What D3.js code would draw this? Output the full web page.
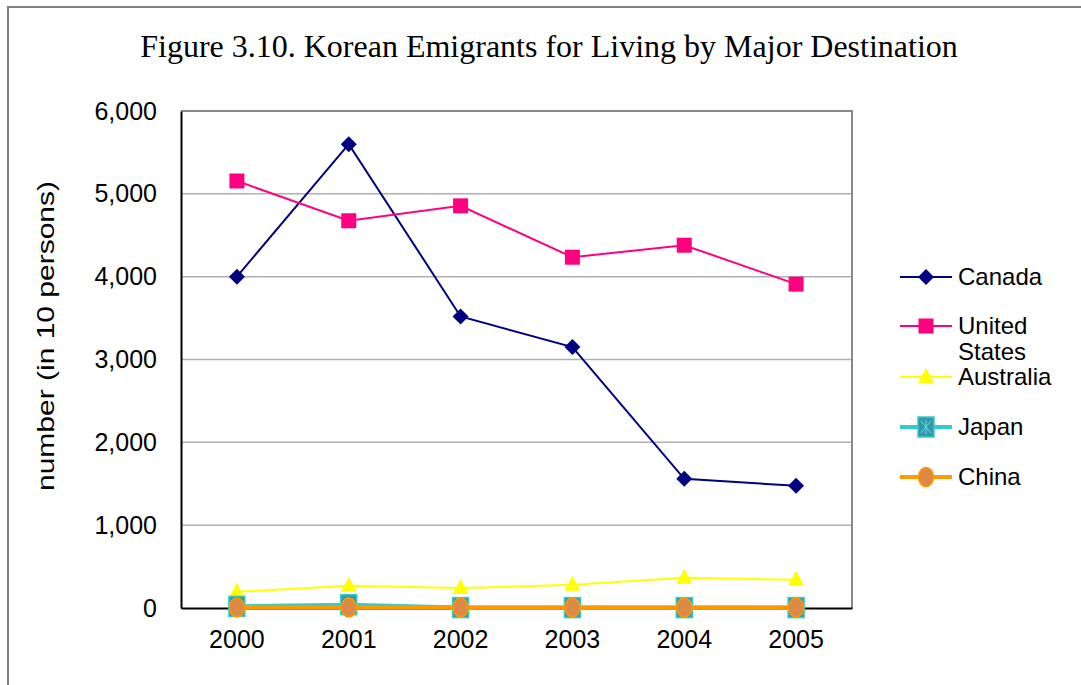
<!DOCTYPE html>
<html>
<head>
<meta charset="utf-8">
<script src="https://cdn.jsdelivr.net/npm/d3@7"></script>
<style>
  body { margin: 0; background: #fff; }
  svg { display: block; }
</style>
</head>
<body>
<script>
// data
const years = ["2000", "2001", "2002", "2003", "2004", "2005"];
const canada = [4000, 5600, 3520, 3150, 1560, 1475];
const unitedStates = [5155, 4675, 4855, 4235, 4380, 3910];
const australia = [195, 270, 240, 280, 365, 340];
const japan = [20, 40, 5, 5, 5, 5];
const china = [5, 5, 5, 5, 5, 5];
const yTicks = [0, 1000, 2000, 3000, 4000, 5000, 6000];

const series = [
    { name: "Canada", values: canada, color: "#000080", width: 2, marker: "diamond" },
    { name: "United States", label: ["United", "States"], values: unitedStates, color: "#ff0080", width: 2, marker: "square" },
    { name: "Australia", values: australia, color: "#ffff00", width: 2, marker: "triangle" },
    { name: "Japan", values: japan, color: "#33cccc", width: 4, marker: "xsquare" },
    { name: "China", values: china, color: "#ff9900", width: 4, marker: "circle" }
];

const W = 1081, H = 685;
const margin = { left: 181, right: 229, top: 111, bottom: 77 };

const svg = d3.select("body").append("svg")
    .attr("width", W)
    .attr("height", H);

// outer frame
svg.append("rect")
    .attr("x", 8).attr("y", 7)
    .attr("width", W + 10).attr("height", H + 10)
    .attr("fill", "none")
    .attr("stroke", "#808080")
    .attr("stroke-width", 2);

svg.append("text")
    .attr("x", 549).attr("y", 57)
    .attr("text-anchor", "middle")
    .style("font-family", "'Liberation Serif', 'Times New Roman', serif")
    .style("font-size", "32px")
    .text("Figure 3.10. Korean Emigrants for Living by Major Destination");

const x = d3.scaleBand()
    .domain(years)
    .range([margin.left, W - margin.right]);

const y = d3.scaleLinear()
    .domain([0, 6000])
    .range([H - margin.bottom, margin.top]);

const cx = d => x(d) + x.bandwidth() / 2;

// gridlines
svg.append("g")
    .selectAll("line")
    .data(yTicks.filter(t => t > 0 && t < 6000))
    .join("line")
    .attr("x1", margin.left).attr("x2", W - margin.right)
    .attr("y1", d => y(d)).attr("y2", d => y(d))
    .attr("stroke", "#b0b0b0")
    .attr("stroke-width", 1.5);

// plot area border (top / right)
svg.append("path")
    .attr("d", `M${margin.left},${y(6000)}H${W - margin.right}V${y(0)}`)
    .attr("fill", "none")
    .attr("stroke", "#888")
    .attr("stroke-width", 2);

const font = "'Liberation Sans', Arial, sans-serif";

const yAxis = svg.append("g")
    .attr("transform", `translate(${margin.left},0)`)
    .call(d3.axisLeft(y).tickValues(yTicks).tickSize(0).tickPadding(24).tickFormat(d3.format(",")));
yAxis.select(".domain").attr("stroke", "#000").attr("stroke-width", 2);
yAxis.selectAll("text").style("font-family", font).style("font-size", "25px").attr("fill", "#000");

const xAxis = svg.append("g")
    .attr("transform", `translate(0,${y(0)})`)
    .call(d3.axisBottom(x).tickSize(0).tickPadding(22));
xAxis.select(".domain").attr("stroke", "#000").attr("stroke-width", 2);
xAxis.selectAll("text").style("font-family", font).style("font-size", "25px").attr("fill", "#000");

svg.append("text")
    .attr("transform", "translate(54,336) rotate(-90) scale(1.25,1)")
    .attr("text-anchor", "middle")
    .style("font-family", font)
    .style("font-size", "24px")
    .text("number (in 10 persons)");

function drawMarker(g, s, px, py) {
    if (s.marker === "diamond") {
        g.append("path")
            .attr("d", `M${px},${py - 8}L${px + 8},${py}L${px},${py + 8}L${px - 8},${py}Z`)
            .attr("fill", s.color);
    } else if (s.marker === "square") {
        g.append("rect")
            .attr("x", px - 7.5).attr("y", py - 7.5)
            .attr("width", 15).attr("height", 15)
            .attr("fill", s.color);
    } else if (s.marker === "triangle") {
        g.append("path")
            .attr("d", `M${px},${py - 9}L${px + 8},${py + 6}L${px - 8},${py + 6}Z`)
            .attr("fill", s.color);
    } else if (s.marker === "xsquare") {
        g.append("rect")
            .attr("x", px - 8).attr("y", py - 10)
            .attr("width", 16).attr("height", 20)
            .attr("fill", "#3399aa")
            .attr("stroke", "#33cccc").attr("stroke-width", 1.5);
        g.append("path")
            .attr("d", `M${px - 5},${py - 6}L${px + 5},${py + 6}M${px + 5},${py - 6}L${px - 5},${py + 6}M${px},${py - 7}V${py + 7}`)
            .attr("stroke", "#66dddd").attr("stroke-width", 1);
    } else if (s.marker === "circle") {
        g.append("ellipse")
            .attr("cx", px).attr("cy", py)
            .attr("rx", 7.5).attr("ry", 9.5)
            .attr("fill", "#dd8844")
            .attr("stroke", "#ff9900").attr("stroke-width", 1.5);
    }
}

const line = d3.line()
    .x((d, i) => cx(years[i]))
    .y(d => y(d));

series.forEach(s => {
    const g = svg.append("g");
    g.append("path")
        .datum(s.values)
        .attr("d", line)
        .attr("fill", "none")
        .attr("stroke", s.color)
        .attr("stroke-width", s.width);
    s.values.forEach((v, i) => drawMarker(g, s, cx(years[i]), y(v)));
});

// legend
const legendY = [277, 326, 377, 427, 477];
series.forEach((s, i) => {
    const g = svg.append("g");
    const ly = legendY[i];
    g.append("line")
        .attr("x1", 900).attr("x2", 952)
        .attr("y1", ly).attr("y2", ly)
        .attr("stroke", s.color)
        .attr("stroke-width", s.width);
    drawMarker(g, s, 926, ly);
    const lines = s.label || [s.name];
    lines.forEach((t, j) => {
        g.append("text")
            .attr("x", 958)
            .attr("y", ly + 8 + j * 26)
            .style("font-family", font)
            .style("font-size", "24px")
            .text(t);
    });
});
</script>
</body>
</html>
